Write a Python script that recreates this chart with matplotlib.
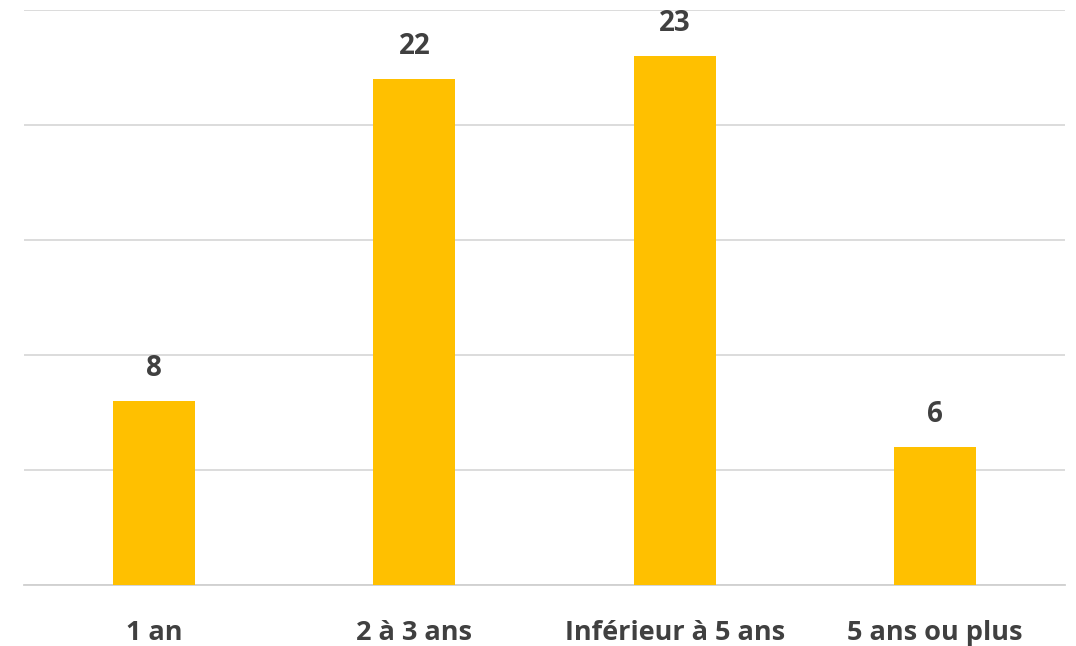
import matplotlib.pyplot as plt

categories = ['1 an', '2 à 3 ans', 'Inférieur à 5 ans', '5 ans ou plus']
counts = [8, 22, 23, 6]

bar_color = '#FFC000'
text_color = '#404040'

fig = plt.figure(figsize=(10.76, 6.46), dpi=100)
ax = fig.add_axes([24 / 1076, 1 - 585 / 646, (1065 - 24) / 1076, 575 / 646])

x = range(len(categories))
bars = ax.bar(x, counts, width=0.315, color=bar_color, zorder=3)

ax.set_xlim(-0.5, len(categories) - 0.5)
ax.set_ylim(0, 25)
ax.set_yticks([0, 5, 10, 15, 20, 25])
ax.yaxis.grid(True, color='#d9d9d9', linewidth=1.3, zorder=0)
ax.tick_params(axis='y', left=False, labelleft=False)
ax.tick_params(axis='x', bottom=False, pad=22)
ax.set_xticks(list(x))
ax.set_xticklabels(categories, fontsize=19.5, fontweight='bold', color=text_color,
                   family='Open Sans')

for side in ['left', 'right', 'top']:
    ax.spines[side].set_visible(False)
ax.spines['bottom'].set_color('#d0d0d0')
ax.spines['bottom'].set_linewidth(1.3)

for rect, val in zip(bars, counts):
    ax.annotate(str(val), (rect.get_x() + rect.get_width() / 2, val),
                xytext=(0, 13), textcoords='offset points', ha='center', va='bottom',
                fontsize=20, fontweight='bold', color=text_color, family='Open Sans')

fig.savefig('out.png', dpi=100)
